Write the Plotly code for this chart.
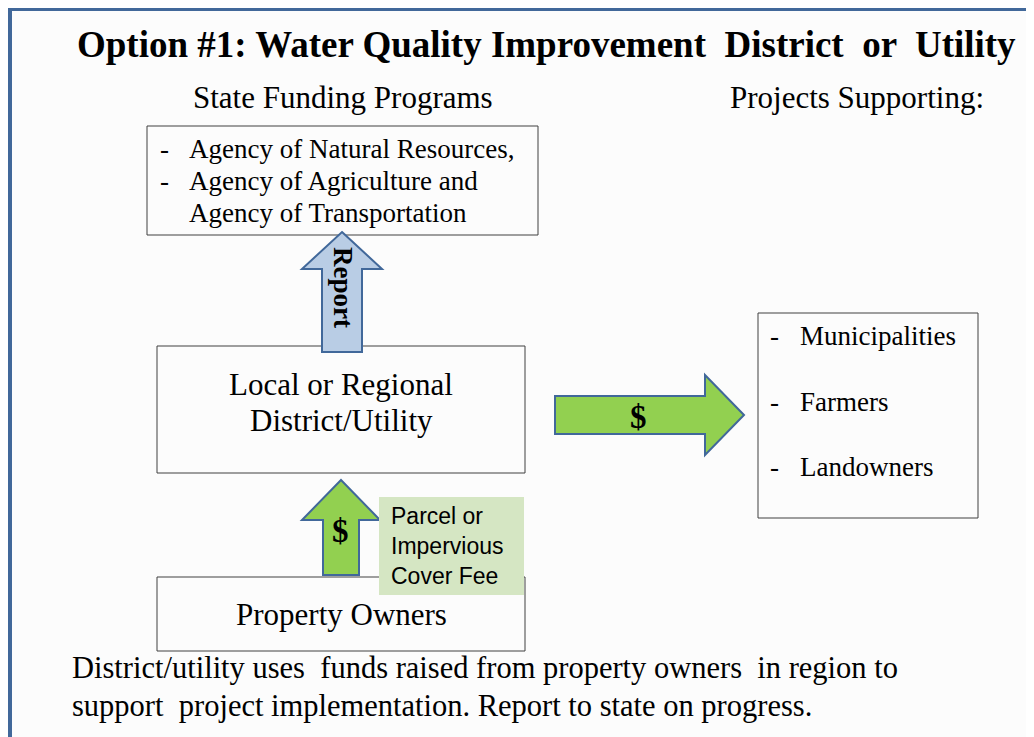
import plotly.graph_objects as go

W, H = 1034, 737
PAD = 8  # page body margin; axes are offset so data units equal window pixels
SERIF = "Liberation Serif, Times New Roman, serif"
SANS = "Liberation Sans, Arial, sans-serif"
FRAME = "#41689a"
EDGE = "#404040"

# text content
TITLE = "Option #1: Water Quality Improvement  District  or  Utility"
HEADINGS = ["State Funding Programs", "Projects Supporting:"]
AGENCIES = ["Agency of Natural Resources,", "Agency of Agriculture and", "Agency of Transportation"]
AGENCY_DASH = [True, True, False]
DISTRICT = ["Local or Regional", "District/Utility"]
OWNERS = "Property Owners"
FEE = ["Parcel or", "Impervious", "Cover Fee"]
RECIPIENTS = ["Municipalities", "Farmers", "Landowners"]
ARROW_LABELS = ["Report", "$", "$"]
CAPTION = [
    "District/utility uses  funds raised from property owners  in region to",
    "support  project implementation. Report to state on progress.",
]

# layout (pixel positions, y grows downward)
BOX_STATE = (147, 126, 538, 235)
BOX_DISTRICT = (157, 346, 525, 473)
BOX_OWNERS = (157, 577, 525, 651)
BOX_FEE = (379, 497, 524, 595)
BOX_PROJECTS = (758, 313, 978, 518)
HEADING_POS = [(343, 97), (857, 97)]
AGENCY_Y = [149, 181, 213]
RECIPIENT_Y = [336, 402, 467]
FEE_Y = [516, 546, 576]
CAPTION_Y = [668, 706]


def rect(box, fill="rgba(0,0,0,0)", line=EDGE, width=1):
    x0, y0, x1, y1 = box
    return dict(type="rect", x0=x0, y0=y0, x1=x1, y1=y1, fillcolor=fill,
                line=dict(color=line, width=width), layer="above")


def up_arrow(cx, tip, head, bottom, shaft, wing, fill):
    p = (f"M{cx},{tip} L{cx + wing},{head} L{cx + shaft},{head} L{cx + shaft},{bottom} "
         f"L{cx - shaft},{bottom} L{cx - shaft},{head} L{cx - wing},{head} Z")
    return dict(type="path", path=p, fillcolor=fill, line=dict(color=FRAME, width=2), layer="above")


def right_arrow(cy, left, head, tip, shaft, wing, fill):
    p = (f"M{tip},{cy} L{head},{cy - wing} L{head},{cy - shaft} L{left},{cy - shaft} "
         f"L{left},{cy + shaft} L{head},{cy + shaft} L{head},{cy + wing} Z")
    return dict(type="path", path=p, fillcolor=fill, line=dict(color=FRAME, width=2), layer="above")


def label(x, y, text, size, family=SERIF, anchor="center", bold=False, angle=0):
    if bold:
        text = f"<b>{text}</b>"
    return dict(x=x, y=y, text=text, showarrow=False, xanchor=anchor, yanchor="middle",
                textangle=angle, font=dict(family=family, size=size, color="black"))


def main():
    fig = go.Figure()

    shapes = [
        # background and frame
        dict(type="rect", x0=10, y0=9, x1=W + 30, y1=H + 30, fillcolor="#fcfcfc",
             line=dict(color=FRAME, width=4), layer="below"),
        rect(BOX_STATE),
        rect(BOX_PROJECTS),
        rect(BOX_DISTRICT),
        up_arrow(342, 232, 269, 352, 20, 40, "#b9cde5"),
        right_arrow(415, 555, 705, 744, 19, 40, "#92d050"),
        rect(BOX_OWNERS),
        up_arrow(341, 480, 520, 575, 18, 39, "#92d050"),
        rect(BOX_FEE, fill="#d5e6c3", line="#d5e6c3", width=0),
    ]

    ann = [label(546, 44, TITLE, 37, bold=True)]
    for (x, y), t in zip(HEADING_POS, HEADINGS):
        ann.append(label(x, y, t, 31))
    for y, t, dash in zip(AGENCY_Y, AGENCIES, AGENCY_DASH):
        if dash:
            ann.append(label(158, y, "-", 27, anchor="left"))
        ann.append(label(187, y, t, 27, anchor="left"))
    for y, t in zip([384, 420], DISTRICT):
        ann.append(label(341, y, t, 31))
    ann.append(label(341, 614, OWNERS, 31))
    for y, t in zip(FEE_Y, FEE):
        ann.append(label(389, y, t, 23, family=SANS, anchor="left"))
    for y, t in zip(RECIPIENT_Y, RECIPIENTS):
        ann.append(label(768, y, "-", 27, anchor="left"))
        ann.append(label(798, y, t, 27, anchor="left"))
    ann.append(label(343, 287, ARROW_LABELS[0], 27, bold=True, angle=90))
    ann.append(label(638, 417, ARROW_LABELS[1], 33, bold=True))
    ann.append(label(340, 531, ARROW_LABELS[2], 33, bold=True))
    for y, t in zip(CAPTION_Y, CAPTION):
        ann.append(label(70, y, t, 30.5, anchor="left"))

    fig.update_layout(
        width=W, height=H,
        margin=dict(l=0, r=0, t=0, b=0),
        paper_bgcolor="white", plot_bgcolor="white",
        xaxis=dict(range=[PAD, W + PAD], visible=False, fixedrange=True),
        yaxis=dict(range=[H + PAD, PAD], visible=False, fixedrange=True),
        shapes=shapes, annotations=ann, showlegend=False,
    )
    fig.write_html("out.html")


if __name__ == "__main__":
    main()
